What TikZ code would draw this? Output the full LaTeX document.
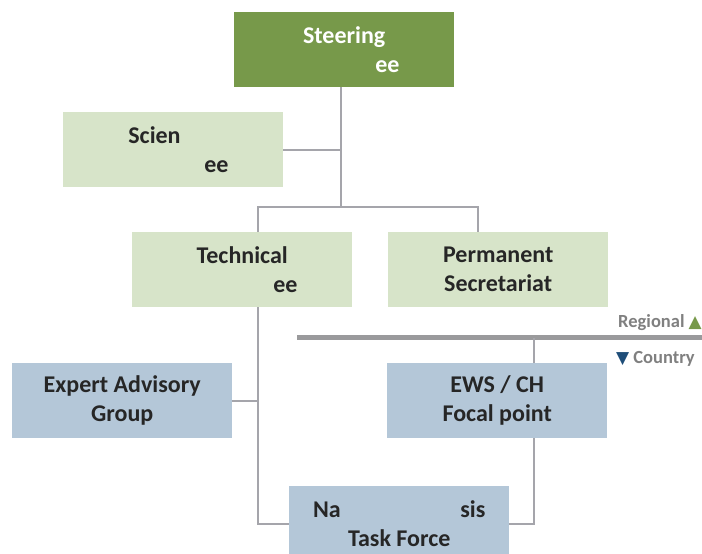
\documentclass[tikz,border=0pt]{standalone}
\usepackage{fontspec}
\setmainfont{Carlito}
\newfontfamily\symfont{DejaVu Sans}
\usetikzlibrary{positioning}
\definecolor{steergreen}{HTML}{77994A}
\definecolor{palegreen}{HTML}{D7E4C9}
\definecolor{paleblue}{HTML}{B4C7D8}
\definecolor{linegrey}{HTML}{A5A5AB}
\definecolor{bargrey}{HTML}{9A9A9C}
\definecolor{txtdark}{HTML}{262626}
\definecolor{tagtext}{HTML}{808080}
\definecolor{markblue}{HTML}{1F4E79}
\tikzset{
	unit/.style={minimum width=220pt, minimum height=75pt, inner sep=0pt, align=center,
		font=\fontsize{24}{29}\selectfont\bfseries, text=txtdark, anchor=north west},
	conn/.style={draw=linegrey, line width=2pt},
	tag/.style={font=\fontsize{18.5}{20}\selectfont\bfseries, text=tagtext, inner sep=0pt}
}

\begin{document}
\begin{tikzpicture}[x=1pt,y=-1pt]
	\clip (0,0) rectangle (702,554);
	\fill[white] (0,0) rectangle (702,554);
	% boxes
	\node[unit, fill=steergreen, text=white] (steer) at (234,12) {Steering\\\phantom{Committ}ee};
	\node[unit, fill=palegreen] (sci) at (63,112) {Scien\phantom{tific}\\\phantom{Committ}ee};
	\node[unit, fill=palegreen] (tech) at (132,232) {Technical\\\phantom{Committ}ee};
	\node[unit, fill=palegreen] (perm) at (388,232) {Permanent\\Secretariat};
	\node[unit, fill=paleblue] (expert) at (12,363) {Expert Advisory\\Group};
	\node[unit, fill=paleblue] (ews) at (387,363) {EWS / CH\\Focal point};
	\node[unit, fill=paleblue] (task) at (289,486) {Na\phantom{tional Analy}sis\\Task Force};
	% level marks
	\coordinate (barl) at (297,337.5);
	\coordinate (barr) at (702,337.5);
	\draw[bargrey, line width=5pt] (barl) -- (barr);
	\node[tag, anchor=base east] (regional) at (702,327) {Regional {\symfont\fontsize{17}{17}\selectfont\color{steergreen}▲}};
	\node[tag, anchor=base west] (country) at (616,363) {{\symfont\fontsize{17}{17}\selectfont\color{markblue}▼} Country};
	% connectors
	\coordinate (stem) at (341,207);
	\coordinate (tl) at (258,207);
	\coordinate (tr) at (478,207);
	\coordinate (ewsx) at (534,337.5);
	\draw[conn] (stem |- steer.south) -- (stem);
	\draw[conn] (sci.east) -- (sci.east -| stem);
	\draw[conn] (tl |- tech.north) -- (tl) -- (tr) -- (tr |- perm.north);
	\draw[conn] (expert.east) -- (expert.east -| tl);
	\draw[conn] (tl |- tech.south) |- (task.west);
	\draw[conn] (ewsx) -- (ewsx |- ews.north);
	\draw[conn] (ewsx |- ews.south) |- (task.east);
\end{tikzpicture}
\end{document}
